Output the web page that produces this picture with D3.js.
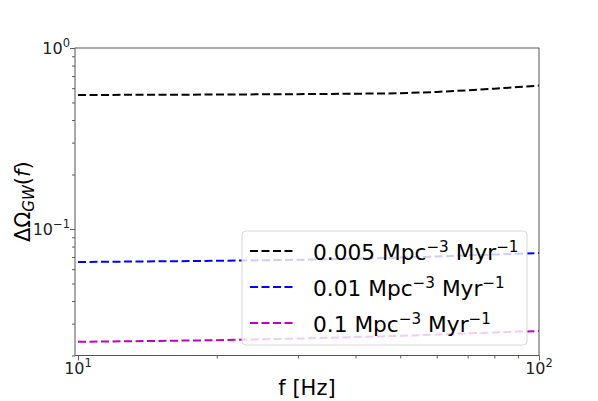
<!DOCTYPE html>
<html><head><meta charset="utf-8">
<script src="https://cdn.jsdelivr.net/npm/d3@7"></script>
<style>body{margin:0;background:#fff}text{font-family:"DejaVu Sans",sans-serif}</style>
</head><body><svg id="c" width="598" height="401"></svg>
<script>
const freqs = [10, 20, 30, 40, 50, 60, 70, 80, 90, 100];
const rateBlack = [0.550, 0.553, 0.556, 0.559, 0.562, 0.572, 0.584, 0.596, 0.608, 0.620];
const rateBlue = [0.0657, 0.0667, 0.0676, 0.0685, 0.0695, 0.0705, 0.0715, 0.0723, 0.0730, 0.0737];
const rateMag = [0.0238, 0.0243, 0.0248, 0.0253, 0.0257, 0.0261, 0.0265, 0.0268, 0.0271, 0.0273];
const seriesLabels = ["0.005", "0.01", "0.1"];
const seriesColors = ["#000000", "#0000ff", "#bf00bf"];
const xMajor = [{v:10, e:"1"}, {v:100, e:"2"}];
const yMajor = [{v:1, e:"0"}, {v:0.1, e:"\u22121"}];

const svg = d3.select("#c");
const L = 75, R = 539, T = 48, B = 355.5;
const x = d3.scaleLog().domain([9.85, 100]).range([L, R]);
const y = d3.scaleLog().domain([0.02, 1]).range([B, T]);

const defs = svg.append("defs");
defs.append("clipPath").attr("id","clip").append("rect").attr("x",L).attr("y",T).attr("width",R-L).attr("height",B-T);

const series = [rateBlack, rateBlue, rateMag];
const line = d3.line().x((d,i)=>x(freqs[i])).y(d=>y(d)).curve(d3.curveLinear);
const g = svg.append("g").attr("clip-path","url(#clip)");
series.forEach((s,k)=>{
  g.append("path").attr("d", line(s)).attr("fill","none").attr("stroke",seriesColors[k])
   .attr("stroke-width",2).attr("stroke-dasharray","8,3.5");
});

// minor ticks
const xMinor = [20,30,40,50,60,70,80,90];
const yMinor = [0.02,0.03,0.04,0.05,0.06,0.07,0.08,0.09,0.2,0.3,0.4,0.5,0.6,0.7,0.8,0.9];
const xAxis = svg.append("g").attr("transform",`translate(0,${B})`)
  .call(d3.axisBottom(x).tickValues(xMajor.map(d=>d.v)).tickSize(5).tickFormat(""));
const xAxisMinor = svg.append("g").attr("transform",`translate(0,${B})`)
  .call(d3.axisBottom(x).tickValues(xMinor).tickSize(3).tickFormat(""));
const yAxis = svg.append("g").attr("transform",`translate(${L},0)`)
  .call(d3.axisLeft(y).tickValues(yMajor.map(d=>d.v)).tickSize(5).tickFormat(""));
const yAxisMinor = svg.append("g").attr("transform",`translate(${L},0)`)
  .call(d3.axisLeft(y).tickValues(yMinor).tickSize(3).tickFormat(""));
[xAxis,xAxisMinor,yAxis,yAxisMinor].forEach(a=>{
  a.select(".domain").remove();
  a.selectAll("line").attr("stroke","#333").attr("stroke-width",0.8);
});
// spines
svg.append("rect").attr("x",L).attr("y",T).attr("width",R-L).attr("height",B-T)
  .attr("fill","none").attr("stroke","#555").attr("stroke-width",1);

// tick labels
xMajor.forEach(d=>{
  const t = svg.append("text").attr("x",x(d.v)).attr("y",374).attr("text-anchor","middle").attr("font-size",16).attr("fill","#222");
  t.append("tspan").text("10");
  t.append("tspan").attr("dy",-7).attr("font-size",11.5).text(d.e);
});
yMajor.forEach(d=>{
  const t = svg.append("text").attr("x",L-5).attr("y",y(d.v)+6).attr("text-anchor","end").attr("font-size",16).attr("fill","#222");
  t.append("tspan").text("10");
  t.append("tspan").attr("dy",-7).attr("font-size",11.5).text(d.e);
});

// axis labels
svg.append("text").attr("x",(L+R)/2).attr("y",395).attr("text-anchor","middle").attr("font-size",21).text("f [Hz]");
const yl = svg.append("text").attr("transform",`translate(30,${(T+B)/2}) rotate(-90)`).attr("text-anchor","middle").attr("font-size",21);
yl.append("tspan").text("\u0394\u03A9");
yl.append("tspan").attr("dy",4).attr("font-size",15).attr("font-style","italic").text("GW");
yl.append("tspan").attr("dy",-4).text("(");
yl.append("tspan").attr("font-style","italic").text("f");
yl.append("tspan").text(")");

// legend
const lg = svg.append("g");
lg.append("rect").attr("x",242).attr("y",231).attr("width",285).attr("height",114).attr("rx",4)
  .attr("fill","#fff").attr("fill-opacity",0.8).attr("stroke","#d8d8d8").attr("stroke-width",1);
const rows = [251, 287, 323];
seriesLabels.forEach((lab,k)=>{
  lg.append("line").attr("x1",250).attr("x2",293).attr("y1",rows[k]).attr("y2",rows[k])
    .attr("stroke",seriesColors[k]).attr("stroke-width",2).attr("stroke-dasharray","8,3.5");
  const t = lg.append("text").attr("x",313).attr("y",rows[k]+9).attr("font-size",21.7).attr("fill","#000");
  t.append("tspan").text(lab + " Mpc");
  t.append("tspan").attr("dy",-8.5).attr("font-size",15.2).text("\u22123");
  t.append("tspan").attr("dy",8.5).text(" Myr");
  t.append("tspan").attr("dy",-8.5).attr("font-size",15.2).text("\u22121");
});
</script></body></html>
